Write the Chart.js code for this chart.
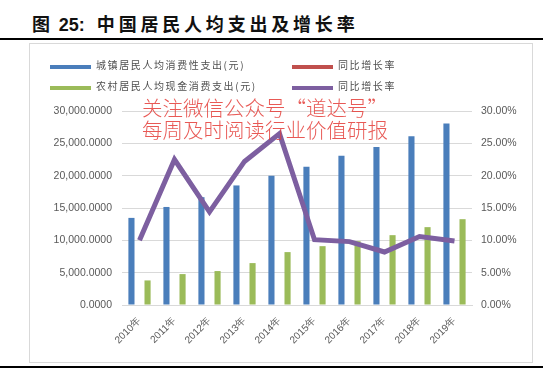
<!DOCTYPE html>
<html>
<head>
<meta charset="utf-8">
<script src="https://cdn.jsdelivr.net/npm/chart.js@4/dist/chart.umd.min.js"></script>
<style>
  body { margin: 0; width: 554px; height: 371px; background: #fff; position: relative; overflow: hidden; font-family: 'Liberation Sans', Arial, sans-serif; }
  .title { position: absolute; left: 32px; top: 10px; font: bold 18px 'Noto Sans CJK SC', sans-serif; color: #111; letter-spacing: 3.8px; white-space: nowrap; }
  .title b { font-family: 'Liberation Sans', Arial, sans-serif; letter-spacing: 0; margin: 0 12px 0 5px; }
  .rule { position: absolute; left: 0; width: 543px; height: 2px; background: #000; }
  .box { position: absolute; left: 29px; top: 43px; width: 502px; height: 318px; border: 1px solid #d9d9d9; }
  #wrap { position: absolute; left: 29px; top: 43px; width: 503px; height: 320px; }
  .legend { position: absolute; font: 10px 'Noto Sans CJK SC', sans-serif; color: #505050; }
  .legend span.sw { position: absolute; width: 41px; height: 4px; }
  .legend span.tx { position: absolute; white-space: nowrap; letter-spacing: 1.6px; }
  .mark { position: absolute; left: 142px; font: 20.5px 'Noto Sans CJK SC', sans-serif; font-weight: 300; color: rgba(228, 60, 55, 0.85); white-space: nowrap; line-height: 1; }
</style>
</head>
<body>
<div class="title">图<b>25:</b>中国居民人均支出及增长率</div>
<div class="rule" style="top:38px"></div>
<div class="box"></div>
<div id="wrap"><canvas id="chart" width="503" height="320"></canvas></div>
<div id="legend"></div>
<div class="mark" style="top:97px">关注微信公众号“道达号”</div>
<div class="mark" style="top:119px">每周及时阅读行业价值研报</div>
<div class="rule" style="top:366px"></div>
<script>
const years = ['2010年', '2011年', '2012年', '2013年', '2014年', '2015年', '2016年', '2017年', '2018年', '2019年']
const urbanSpend = [13471, 15161, 16674, 18488, 19968, 21392, 23079, 24445, 26112, 28063]
const ruralSpend = [3800, 4780, 5250, 6480, 8180, 9100, 9870, 10800, 12040, 13270]
const urbanGrowth = [null, null, null, null, null, null, null, null, null, null]
const ruralGrowth = [10.0, 22.5, 14.4, 22.2, 26.5, 10.1, 9.8, 8.2, 10.6, 9.9]
const leftTicks = [0, 5000, 10000, 15000, 20000, 25000, 30000]
const rightTicks = [0, 5, 10, 15, 20, 25, 30]

const datasets = [
  { type: 'bar', label: '城镇居民人均消费性支出(元)', data: urbanSpend, backgroundColor: '#4a7ebb', yAxisID: 'y', order: 2, categoryPercentage: 0.92, barPercentage: 0.38 },
  { type: 'line', label: '同比增长率', data: urbanGrowth, borderColor: '#c0504d', backgroundColor: '#c0504d', borderWidth: 5, pointRadius: 0, yAxisID: 'y1', order: 1 },
  { type: 'bar', label: '农村居民人均现金消费支出(元)', data: ruralSpend, backgroundColor: '#9bbb59', yAxisID: 'y', order: 2, categoryPercentage: 0.92, barPercentage: 0.38 },
  { type: 'line', label: '同比增长率', data: ruralGrowth, borderColor: '#7d5fa0', backgroundColor: '#7d5fa0', borderWidth: 5, pointRadius: 0, yAxisID: 'y1', order: 0, tension: 0 }
]

// legend in a 2 x 2 grid, built from the datasets
const legend = document.getElementById('legend')
datasets.forEach((d, i) => {
  const col = i % 2
  const row = Math.floor(i / 2)
  const item = document.createElement('div')
  item.className = 'legend'
  item.style.left = (col === 0 ? 50 : 292) + 'px'
  item.style.top = (row === 0 ? 65 : 86) + 'px'
  item.innerHTML = `<span class="sw" style="left:0;top:0;background:${d.borderColor || d.backgroundColor}"></span>` +
    `<span class="tx" style="left:46px;top:-8px">${d.label}</span>`
  legend.appendChild(item)
})

const fmtYuan = v => v.toLocaleString('en-US', { minimumFractionDigits: 4, maximumFractionDigits: 4 })

new Chart(document.getElementById('chart'), {
  data: { labels: years, datasets },
  options: {
    responsive: false,
    animation: false,
    layout: { padding: { top: 68, left: 0, right: 0, bottom: 0 } },
    plugins: { legend: { display: false }, tooltip: { enabled: false } },
    scales: {
      x: {
        grid: { display: false, drawTicks: false },
        border: { color: '#d9d9d9' },
        ticks: { color: '#595959', font: { size: 10, family: 'Liberation Sans' }, minRotation: 45, maxRotation: 45, padding: 10 },
        afterFit: s => { s.height = 58 }
      },
      y: {
        position: 'left',
        min: 0,
        max: 30000,
        afterBuildTicks: s => { s.ticks = leftTicks.map(v => ({ value: v })) },
        grid: { color: '#d9d9d9', drawTicks: false },
        border: { display: false },
        ticks: { color: '#595959', font: { size: 10.5, family: 'Liberation Sans' }, padding: 10, callback: v => fmtYuan(v) },
        afterFit: s => { s.width = 93 }
      },
      y1: {
        position: 'right',
        min: 0,
        max: 30,
        afterBuildTicks: s => { s.ticks = rightTicks.map(v => ({ value: v })) },
        grid: { display: false, drawTicks: false },
        border: { display: false },
        ticks: { color: '#595959', font: { size: 10.5, family: 'Liberation Sans' }, padding: 9, callback: v => v.toFixed(2) + '%' },
        afterFit: s => { s.width = 60 }
      }
    }
  }
})
</script>
</body>
</html>
